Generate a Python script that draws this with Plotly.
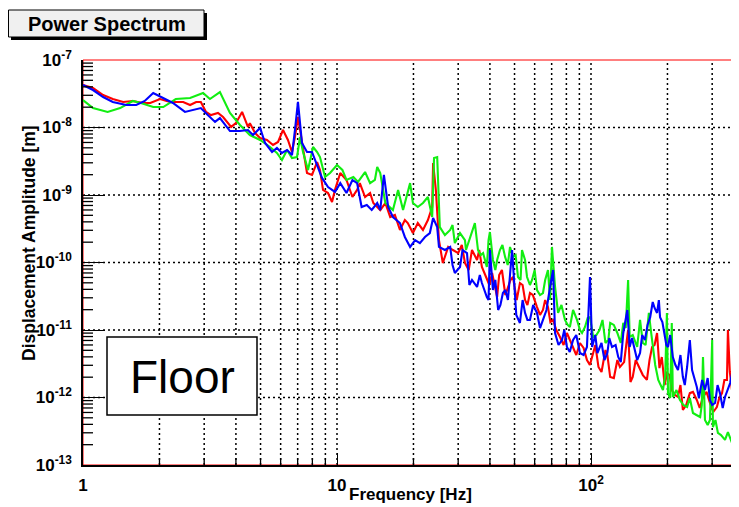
import plotly.graph_objects as go

# ---------------- data ----------------
freq_red = [1.00, 1.095, 1.20, 1.31, 1.44, 1.57, 1.72, 1.84, 2.01, 2.20, 2.48, 2.64, 2.79, 2.91,
            3.05, 3.19, 3.40, 3.56, 3.83, 4.00, 4.23, 4.46, 4.54, 4.76, 4.98, 5.30, 5.60, 5.86,
            6.13, 6.41, 6.65, 6.83, 7.02, 7.28, 7.62, 7.97, 8.35, 8.57, 8.81, 9.22, 9.56, 9.82,
            10.3, 10.9, 11.5, 12.0, 12.3, 12.9, 13.5, 13.9, 14.8, 15.5, 16.2, 16.9, 17.7, 18.5,
            19.0, 19.9, 20.8, 21.8, 22.8, 23.7, 23.9, 24.5, 25.2, 26.1, 27.4, 28.6, 30.0, 31.9,
            34.0, 35.6, 37.2, 38.9, 40.8, 42.7, 44.6, 47.1, 49.3, 52.5, 55.0, 57.5, 61.3, 64.7,
            67.7, 70.9, 75.5, 80.4, 85.0, 90.5, 96.4, 102, 107, 114, 119, 127, 130, 140, 146,
            156, 166, 174, 182, 190, 199, 208, 220, 230, 245, 261, 276, 294, 313, 328, 343,
            346, 359, 376, 383]
amp_red = [4.26e-8, 3.84e-8, 3.03e-8, 2.64e-8, 2.39e-8, 2.47e-8, 2.31e-8, 2.31e-8, 2.64e-8, 2.39e-8,
           2.39e-8, 2.15e-8, 2.39e-8, 2.39e-8, 1.70e-8, 1.53e-8, 1.64e-8, 1.43e-8, 1.02e-8, 1.16e-8,
           1.70e-8, 1.02e-8, 1.16e-8, 8.29e-9, 6.99e-9, 6.53e-9, 5.51e-9, 6.10e-9, 9.18e-9, 6.53e-9,
           4.34e-9, 7.23e-9, 1.43e-8, 5.89e-9, 2.12e-9, 1.98e-9, 3.08e-9, 2.35e-9, 1.19e-9, 1.07e-9,
           7.88e-10, 1.19e-9, 2.12e-9, 1.67e-9, 9.34e-10, 1.19e-9, 1.50e-9, 9.34e-10, 1.07e-9, 7.61e-10,
           5.99e-10, 7.61e-10, 4.72e-10, 5.05e-10, 3.03e-10, 4.26e-10, 3.84e-10, 2.73e-10, 3.84e-10, 3.03e-10,
           4.26e-10, 6.64e-10, 2.98e-9, 1.19e-9, 2.15e-10, 9.83e-11, 1.70e-10, 1.53e-10, 1.38e-10, 9.83e-11,
           1.53e-10, 1.09e-10, 8.58e-11, 5.51e-11, 6.99e-11, 3.08e-11, 7.74e-11, 4.34e-11, 6.10e-11, 4.97e-11,
           2.78e-11, 3.53e-11, 2.19e-11, 1.98e-11, 2.19e-11, 1.41e-11, 7.88e-12, 9.03e-12, 5.60e-12, 6.42e-12,
           3.59e-12, 4.56e-12, 2.83e-12, 5.05e-12, 2.01e-12, 3.59e-12, 2.83e-12, 1.00e-11, 2.01e-12, 2.55e-12,
           1.82e-12, 5.60e-12, 9.03e-12, 3.98e-12, 2.31e-12, 1.29e-12, 1.02e-12, 6.53e-13, 1.16e-12, 9.18e-13,
           1.02e-12, 8.29e-13, 7.23e-13, 1.16e-12, 1.82e-12, 1.00e-11, 1.29e-12, 3.98e-12, 5.99e-12]
# extra readings inside the dense high-frequency band
freq_red_hf = [31.0, 33.0, 36.3, 39.8, 43.5, 46.0, 48.2, 51.0, 53.8, 56.2, 59.0, 63.0, 66.0, 69.2,
               73.0, 78.0, 82.5, 87.5, 93.5, 99.0, 104, 110, 116, 123, 135, 143, 150, 160, 170,
               178, 186, 195, 204, 214, 225, 237, 252, 268, 285, 303, 320, 335, 352, 367, 380]
amp_red_hf = [1.82e-10, 7.74e-11, 1.53e-10, 4.64e-11, 6.53e-11, 3.30e-11, 5.51e-11, 2.78e-11, 4.64e-11,
              2.35e-11, 3.30e-11, 1.67e-11, 2.78e-11, 1.31e-11, 1.00e-11, 5.99e-12, 7.11e-12, 4.26e-12,
              5.41e-12, 3.03e-12, 5.99e-12, 2.39e-12, 4.26e-12, 1.94e-12, 3.35e-12, 1.70e-12, 3.59e-12,
              2.15e-12, 3.59e-12, 5.99e-12, 2.73e-12, 1.53e-12, 2.15e-12, 1.09e-12, 1.53e-12, 7.74e-13,
              1.21e-12, 6.99e-13, 1.21e-12, 6.10e-13, 9.83e-13, 1.82e-12, 2.39e-12, 3.59e-12, 5.05e-12]

freq_green = [1.00, 1.095, 1.25, 1.40, 1.57, 1.69, 1.89, 2.07, 2.32, 2.64, 2.97, 3.16, 3.46, 3.79,
              4.15, 4.54, 4.98, 5.45, 5.80, 6.07, 6.36, 6.65, 6.96, 7.15, 7.35, 7.69, 8.05, 8.35,
              8.57, 8.97, 9.39, 10.0, 10.5, 10.9, 11.6, 12.1, 12.9, 13.5, 14.1, 14.4, 14.8, 15.5,
              16.6, 17.4, 18.2, 19.4, 19.9, 20.8, 21.8, 22.8, 23.7, 24.1, 24.8, 25.4, 26.6, 27.9,
              29.1, 30.5, 31.9, 33.4, 34.9, 35.9, 37.6, 38.9, 40.0, 41.1, 42.7, 43.8, 45.9, 48.0,
              49.3, 51.6, 53.5, 56.0, 58.6, 61.3, 64.7, 67.7, 70.2, 72.2, 74.2, 79.0, 82.6, 88.1,
              92.2, 94.7, 99.1, 102, 108, 114, 119, 127, 134, 140, 142, 152, 160, 169, 175, 184,
              192, 199, 201, 208, 210, 224, 239, 252, 269, 276, 281, 294, 300, 302, 316, 337,
              359, 379, 383]
amp_green = [2.55e-8, 1.94e-8, 1.70e-8, 1.94e-8, 2.47e-8, 2.31e-8, 2.01e-8, 2.01e-8, 2.64e-8, 2.73e-8,
             3.24e-8, 2.64e-8, 3.35e-8, 1.64e-8, 1.09e-8, 7.74e-9, 6.53e-9, 5.14e-9, 4.19e-9, 3.30e-9,
             4.64e-9, 3.53e-9, 3.65e-9, 7.23e-9, 4.34e-9, 2.35e-9, 5.14e-9, 4.34e-9, 3.65e-9, 1.85e-9,
             2.12e-9, 2.78e-9, 2.35e-9, 1.67e-9, 1.85e-9, 1.56e-9, 2.19e-9, 1.50e-9, 1.67e-9, 2.60e-9,
             2.12e-9, 7.61e-10, 5.99e-10, 1.19e-9, 5.99e-10, 1.50e-9, 7.61e-10, 6.64e-10, 7.61e-10, 9.34e-10,
             4.72e-10, 3.53e-9, 3.65e-9, 3.35e-10, 2.55e-10, 3.03e-10, 1.94e-10, 2.73e-10, 2.15e-10, 2.39e-10,
             3.84e-10, 1.53e-10, 1.38e-10, 8.58e-11, 2.83e-10, 1.09e-10, 1.09e-10, 1.53e-10, 1.21e-10, 1.70e-10,
             1.21e-10, 6.10e-11, 1.53e-10, 6.10e-11, 5.51e-11, 3.91e-11, 3.53e-11, 7.74e-11, 1.70e-10, 4.34e-11,
             1.79e-11, 1.41e-11, 1.11e-11, 1.41e-11, 9.03e-12, 1.11e-11, 1.55e-11, 7.88e-12, 1.00e-11, 6.42e-12,
             1.27e-11, 9.03e-12, 1.27e-11, 5.51e-11, 7.88e-12, 5.60e-12, 6.42e-12, 1.79e-11, 5.60e-12, 1.82e-12,
             1.29e-12, 1.79e-11, 1.16e-12, 1.27e-11, 1.02e-12, 9.18e-13, 7.23e-13, 5.89e-13, 5.14e-13, 3.98e-12,
             4.64e-13, 4.64e-13, 7.11e-12, 3.65e-13, 2.98e-13, 2.35e-13, 2.12e-13, 1.85e-13, 1.56e-13]
freq_green_hf = [28.5, 32.2, 34.2, 36.8, 39.5, 42.0, 44.8, 47.0, 50.5, 52.8, 55.0, 57.5, 60.0, 63.0,
                 66.0, 69.0, 76.5, 81.0, 85.0, 90.5, 97.0, 105, 111, 117, 123, 131, 137, 146, 156,
                 164, 172, 179, 188, 196, 205, 217, 231, 245, 260, 273, 288, 309, 325, 346, 368]
amp_green_hf = [3.59e-10, 1.53e-10, 3.03e-10, 1.29e-10, 2.15e-10, 7.74e-11, 1.82e-10, 9.18e-11, 1.29e-10,
                5.51e-11, 1.09e-10, 4.64e-11, 7.74e-11, 3.30e-11, 5.51e-11, 2.78e-11, 2.35e-11, 1.19e-11,
                1.98e-11, 1.00e-11, 1.50e-11, 8.43e-12, 1.41e-11, 7.11e-12, 1.19e-11, 6.42e-12, 1.07e-11,
                8.43e-12, 1.41e-11, 5.99e-12, 1.00e-11, 3.03e-12, 1.53e-12, 2.15e-12, 9.83e-13, 1.29e-12,
                7.74e-13, 9.83e-13, 5.51e-13, 7.74e-13, 3.91e-13, 4.64e-13, 2.78e-13, 3.08e-13, 1.98e-13]

freq_blue = [1.00, 1.095, 1.20, 1.31, 1.48, 1.62, 1.75, 1.89, 2.03, 2.26, 2.52, 2.71, 2.91, 3.10,
             3.31, 3.46, 3.79, 4.15, 4.46, 4.67, 4.98, 5.21, 5.55, 5.80, 6.07, 6.36, 6.65, 6.83,
             7.02, 7.28, 7.62, 7.97, 8.35, 8.73, 9.22, 9.82, 10.3, 10.9, 11.5, 12.0, 12.5, 13.1,
             13.7, 14.4, 14.8, 15.3, 15.9, 16.6, 17.7, 18.5, 19.4, 20.3, 21.2, 22.2, 23.2, 23.9,
             24.8, 25.2, 26.6, 27.9, 29.1, 30.5, 32.5, 34.0, 35.6, 37.2, 38.9, 40.0, 41.1, 43.1,
             45.0, 47.1, 48.9, 50.2, 52.5, 55.0, 57.5, 61.3, 64.7, 69.0, 70.9, 72.2, 76.9, 80.4,
             85.0, 90.5, 96.4, 99.1, 101, 106, 110, 116, 121, 128, 134, 139, 142, 149, 156, 163,
             171, 175, 182, 187, 196, 201, 210, 220, 230, 239, 245, 250, 261, 274, 281, 294,
             308, 322, 337, 353, 369, 383]
amp_blue = [4.26e-8, 3.59e-8, 2.83e-8, 2.39e-8, 2.15e-8, 2.15e-8, 2.47e-8, 3.24e-8, 2.83e-8, 2.31e-8,
            1.70e-8, 1.82e-8, 1.94e-8, 1.53e-8, 1.21e-8, 1.38e-8, 8.87e-9, 8.87e-9, 9.18e-9, 7.74e-9,
            9.83e-9, 5.89e-9, 4.34e-9, 4.97e-9, 4.19e-9, 4.64e-9, 3.91e-9, 9.18e-9, 2.39e-8, 5.89e-9,
            4.34e-9, 4.34e-9, 2.78e-9, 1.79e-9, 1.31e-9, 1.11e-9, 1.50e-9, 1.07e-9, 1.67e-9, 1.50e-9,
            6.64e-10, 7.11e-10, 5.99e-10, 7.61e-10, 5.99e-10, 1.98e-9, 6.64e-10, 4.72e-10, 3.84e-10, 2.39e-10,
            1.70e-10, 2.15e-10, 1.94e-10, 2.39e-10, 2.73e-10, 4.56e-10, 3.35e-10, 1.70e-10, 1.53e-10, 1.70e-10,
            6.99e-11, 8.58e-11, 1.38e-10, 5.51e-11, 4.34e-11, 4.97e-11, 3.08e-11, 1.53e-10, 3.91e-11, 1.98e-11,
            3.53e-11, 2.78e-11, 1.53e-10, 2.51e-11, 1.27e-11, 1.79e-11, 1.41e-11, 1.79e-11, 1.41e-11, 4.34e-11,
            7.74e-11, 9.03e-12, 7.11e-12, 5.60e-12, 7.11e-12, 4.56e-12, 5.60e-12, 6.10e-11, 5.60e-12, 4.56e-12,
            6.42e-12, 4.56e-12, 5.60e-12, 3.98e-12, 9.03e-12, 1.98e-11, 5.60e-12, 5.05e-12, 4.56e-12, 7.11e-12,
            1.55e-11, 2.60e-11, 1.79e-11, 1.55e-11, 7.88e-12, 5.60e-12, 3.98e-12, 2.55e-12, 2.01e-12, 2.83e-12,
            7.11e-12, 2.55e-12, 1.43e-12, 1.82e-12, 1.29e-12, 9.18e-13, 8.29e-13, 1.16e-12, 1.02e-12, 1.64e-12,
            3.24e-12, 5.60e-12]
freq_blue_hf = [28.5, 31.2, 33.2, 36.5, 39.5, 42.0, 44.0, 46.0, 50.8, 53.8, 56.2, 59.2, 63.0, 66.8,
                74.5, 78.5, 82.5, 87.5, 93.5, 104, 113, 118, 125, 131, 145, 152, 159, 167, 178,
                185, 191, 198, 205, 215, 225, 234, 255, 266, 288, 300, 315, 330, 345, 360, 376]
amp_blue_hf = [9.18e-11, 1.53e-10, 4.64e-11, 6.53e-11, 2.78e-11, 5.51e-11, 2.35e-11, 3.91e-11, 1.67e-11,
               2.78e-11, 1.41e-11, 2.35e-11, 1.07e-11, 1.98e-11, 5.99e-12, 1.00e-11, 4.72e-12, 8.43e-12,
               4.26e-12, 8.43e-12, 3.59e-12, 7.61e-12, 5.99e-12, 3.35e-12, 7.61e-12, 3.59e-12, 8.43e-12,
               1.19e-11, 2.12e-11, 2.78e-11, 1.31e-11, 5.99e-12, 8.43e-12, 3.03e-12, 4.26e-12, 1.53e-12,
               1.94e-12, 9.83e-13, 1.94e-12, 7.74e-13, 1.53e-12, 6.99e-13, 1.29e-12, 2.39e-12, 4.26e-12]

x_tick_vals = [1, 10, 100]
x_tick_text = ["1", "10", "10<sup>2</sup>"]
y_tick_vals = [1e-13, 1e-12, 1e-11, 1e-10, 1e-9, 1e-8, 1e-7]
y_tick_text = ["10<sup>-13</sup>", "10<sup>-12</sup>", "10<sup>-11</sup>", "10<sup>-10</sup>",
               "10<sup>-9</sup>", "10<sup>-8</sup>", "10<sup>-7</sup>"]
x_grid_vals = [2, 3, 4, 5, 6, 7, 8, 9, 10, 20, 30, 40, 50, 60, 70, 80, 90, 100, 200, 300]
x_minor_vals = [2, 3, 4, 5, 6, 7, 8, 9, 20, 30, 40, 50, 60, 70, 80, 90, 200, 300]
y_grid_vals = [1e-12, 1e-11, 1e-10, 1e-9, 1e-8]
y_minor_vals = [m * 10.0 ** e for e in range(-13, -7) for m in range(2, 10)]

# ---------------- layout geometry ----------------
# The page body has an 8 px margin, so the figure is drawn 8 px smaller and
# every page position p maps to figure position p - 8.
OFF = 8
W, H = 739 - OFF, 507 - OFF
PX0, PX1, PY0, PY1 = 83, 739, 60, 465          # plot area in page pixels
L, T = PX0 - OFF, PY0 - OFF
R = W - (PX1 - OFF)
B = H - (PY1 - OFF)
PW, PH = PX1 - PX0, PY1 - PY0
FONT = "Liberation Sans, Arial, sans-serif"


def fx(p):
    return (p - PX0) / PW


def fy(p):
    return (PY1 - p) / PH


def merged(f1, a1, f2, a2):
    pairs = sorted(zip(f1 + f2, a1 + a2))
    return [p[0] for p in pairs], [p[1] for p in pairs]


fig = go.Figure()
for (f, a), c in [(merged(freq_red, amp_red, freq_red_hf, amp_red_hf), "#ff0000"),
                  (merged(freq_green, amp_green, freq_green_hf, amp_green_hf), "#11ee11"),
                  (merged(freq_blue, amp_blue, freq_blue_hf, amp_blue_hf), "#0000ff")]:
    fig.add_trace(go.Scatter(x=f, y=a, mode="lines", line=dict(color=c, width=2.1),
                             showlegend=False, hoverinfo="skip"))

shapes = []
grid_line = dict(color="black", width=1.5, dash="2px,3px")
for v in x_grid_vals:
    shapes.append(dict(type="line", xref="x", yref="paper", x0=v, x1=v, y0=0, y1=1,
                       line=grid_line, layer="below"))
for v in y_grid_vals:
    shapes.append(dict(type="line", xref="paper", yref="y", x0=0, x1=1, y0=v, y1=v,
                       line=grid_line, layer="below"))
for v in x_minor_vals:
    shapes.append(dict(type="line", xref="x", yref="paper", x0=v, x1=v, y0=0, y1=7 / PH,
                       line=dict(color="black", width=1.3)))
for v in y_minor_vals:
    shapes.append(dict(type="line", xref="paper", yref="y", x0=0, x1=10 / PW, y0=v, y1=v,
                       line=dict(color="black", width=1.3)))
# frame
shapes.append(dict(type="rect", xref="paper", yref="paper", x0=0, x1=1.01, y0=0, y1=1,
                   line=dict(color="#ff0000", width=1), layer="below"))
# title box with shadow
shapes.append(dict(type="rect", xref="paper", yref="paper", x0=fx(11), x1=fx(207), y0=fy(40), y1=fy(13),
                   fillcolor="black", line=dict(width=0)))
shapes.append(dict(type="rect", xref="paper", yref="paper", x0=fx(8.5), x1=fx(204), y0=fy(37), y1=fy(10),
                   fillcolor="#f0f0f0", line=dict(color="black", width=1)))
# Floor box
shapes.append(dict(type="rect", xref="paper", yref="paper", x0=fx(107), x1=fx(257), y0=fy(415), y1=fy(337),
                   fillcolor="white", line=dict(color="black", width=1.5)))

annotations = [
    dict(text="Power Spectrum", xref="paper", yref="paper", x=fx(107), y=fy(24), showarrow=False,
         xanchor="center", yanchor="middle",
         font=dict(family=FONT, size=20, color="black", weight="bold")),
    dict(text="Floor", xref="paper", yref="paper", x=fx(182), y=fy(377), showarrow=False,
         xanchor="center", yanchor="middle",
         font=dict(family=FONT, size=46, color="black")),
    dict(text="Displacement Amplitude [m]", xref="paper", yref="paper", x=fx(29), y=fy(243),
         textangle=-90, showarrow=False, xanchor="center", yanchor="middle",
         font=dict(family=FONT, size=17.5, color="black", weight="bold")),
    dict(text="Frequency [Hz]", xref="paper", yref="paper", x=fx(410), y=fy(495), showarrow=False,
         xanchor="center", yanchor="middle",
         font=dict(family=FONT, size=17, color="black", weight="bold")),
]

axis_common = dict(showgrid=False, zeroline=False, showline=True, linecolor="black", linewidth=1.5,
                   ticks="inside", tickcolor="black", tickwidth=1.3, automargin=False,
                   tickfont=dict(family=FONT, size=17, color="black", weight="bold"))

fig.update_layout(
    width=W, height=H,
    margin=dict(l=L, r=R, t=T, b=B, autoexpand=False),
    paper_bgcolor="white", plot_bgcolor="white",
    xaxis=dict(type="log", range=[0, 2.5827], tickmode="array", tickvals=x_tick_vals,
               ticktext=x_tick_text, ticklen=12, ticklabelstandoff=4, **axis_common),
    yaxis=dict(type="log", range=[-13, -7], tickmode="array", tickvals=y_tick_vals,
               ticktext=y_tick_text, ticklen=22, ticklabelstandoff=6, **axis_common),
    shapes=shapes,
    annotations=annotations,
)

fig.write_html("out.html")
